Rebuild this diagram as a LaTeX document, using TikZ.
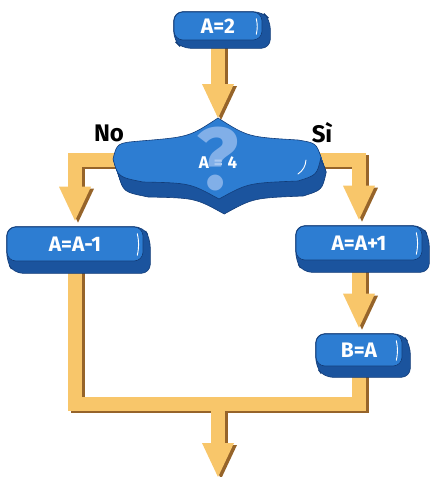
\documentclass[tikz,border=0pt]{standalone}
\usepackage{fontspec}
\setmainfont{Fira Sans}
\usetikzlibrary{arrows.meta,calc}

\definecolor{boxface}{RGB}{45,125,210}
\definecolor{boxside}{RGB}{27,84,158}
\definecolor{boxedge}{RGB}{18,60,120}
\definecolor{arrface}{RGB}{248,198,106}
\definecolor{arrside}{RGB}{150,100,42}
\definecolor{qmark}{RGB}{150,188,238}

% layers: arrow shadows, arrows, box depth, box faces
\pgfdeclarelayer{flowshade}
\pgfdeclarelayer{flow}
\pgfdeclarelayer{depth}
\pgfsetlayers{flowshade,flow,depth,main}

% a 3D connector: dark copy shifted right/down, orange copy on top
\newcommand\flowpath[2]{%
  \begin{pgfonlayer}{flowshade}
    \draw[#1, draw=arrside, transform canvas={shift={(3pt,-2pt)}}] #2;
  \end{pgfonlayer}
  \begin{pgfonlayer}{flow}
    \draw[#1, draw=arrface] #2;
  \end{pgfonlayer}}

% extruded side of a box face, offset by (#2,#3)
\newcommand\boxdepth[3]{%
  \begin{pgfonlayer}{depth}
    \filldraw[fill=boxside, draw=boxedge, line width=0.6pt, rounded corners=9pt]
      (#1.north west) -- (#1.north east) -- ($(#1.north east)+(#2,#3)$)
      -- ($(#1.south east)+(#2,#3)$) -- ($(#1.south west)+(#2,#3)$)
      -- (#1.south west) -- cycle;
  \end{pgfonlayer}
  \draw[white, line width=0.9pt, line cap=round]
    ($(#1.north east)+(-6,7)$) to[bend left=12] ($(#1.south east)+(-6,-6)$);}

\begin{document}
\begin{tikzpicture}[x=1pt,y=-1pt,
  face/.style={fill=boxface, draw=boxedge, line width=0.6pt, rounded corners=9pt,
    text=white, font=\fontsize{21}{21}\selectfont\bfseries, inner sep=0pt},
  shaft/.style={line width=14pt, line join=miter},
  arrow/.style={shaft, shorten >=6pt,
    -{Triangle[width=32pt,length=34pt,line width=0pt]}},
  arrowexact/.style={shaft,
    -{Triangle[width=32pt,length=34pt,line width=0pt]}},
  branch/.style={font=\fontsize{24}{24}\selectfont\bfseries, text=black},
  decshape/.style={insert path={(218,118) .. controls (248,137) .. (298,140)
    .. controls (316,143) .. (321,157) .. controls (317,175) .. (298,181)
    .. controls (248,183) .. (219,199) .. controls (190,183) .. (143,182)
    .. controls (118,177) .. (113,159) .. controls (117,143) .. (140,141)
    .. controls (189,137) .. cycle}}]

\useasboundingbox (0,0) rectangle (433,477);

% process boxes
\node[face, minimum width=88pt, minimum height=28pt] (a2) at (218,26) {A=2};
\node[face, minimum width=136pt, minimum height=34pt] (am1) at (75,244) {A=A-1};
\node[face, minimum width=126pt, minimum height=34pt] (ap1) at (359,243) {A=A+1};
\node[face, minimum width=86pt, minimum height=32pt] (ba) at (359,350) {B=A};
\boxdepth{a2}{8}{8}
\boxdepth{am1}{7}{12}
\boxdepth{ap1}{7}{12}
\boxdepth{ba}{8}{11}

% decision shape: extruded underside, then the top face
\begin{pgfonlayer}{depth}
  \foreach \k in {1,...,15}
    \fill[boxside, shift={(\k*0.35,\k)}, decshape];
  \draw[boxedge, line width=0.6pt, shift={(5.25,15)}, decshape];
\end{pgfonlayer}
\filldraw[fill=boxface, draw=boxedge, line width=0.6pt, decshape];
\draw[white, line width=0.9pt, line cap=round] (306,160) to[bend left=25] (298,174);
\node[text=white, font=\fontsize{17}{17}\selectfont\bfseries] (dec) at (218,163)
  {A\hspace{5pt}=\hspace{5pt}4};
\node[text=qmark, opacity=0.8, font=\fontsize{88}{88}\selectfont\bfseries] (qm) at (218,159) {?};

% connector end points
\coordinate (decT) at (218,118);
\coordinate (decW) at (122,160);
\coordinate (decE) at (312,160);
\coordinate (merge) at (218,404);
\coordinate (exit) at (218,477);

% branch labels
\node[branch] (no) at (109,133) {No};
\node[branch] (si) at (322,133) {Sì};

% connectors
\flowpath{arrowexact}{(a2.south) -- (decT)}
\flowpath{arrow}{(decW) -| (am1)}
\flowpath{arrow}{(decE) -| (ap1)}
\flowpath{arrow}{(ap1) -- (ba)}
\flowpath{shaft}{(am1) |- (merge) -| (ba)}
\flowpath{arrowexact}{(merge) -- (exit)}

\end{tikzpicture}
\end{document}
